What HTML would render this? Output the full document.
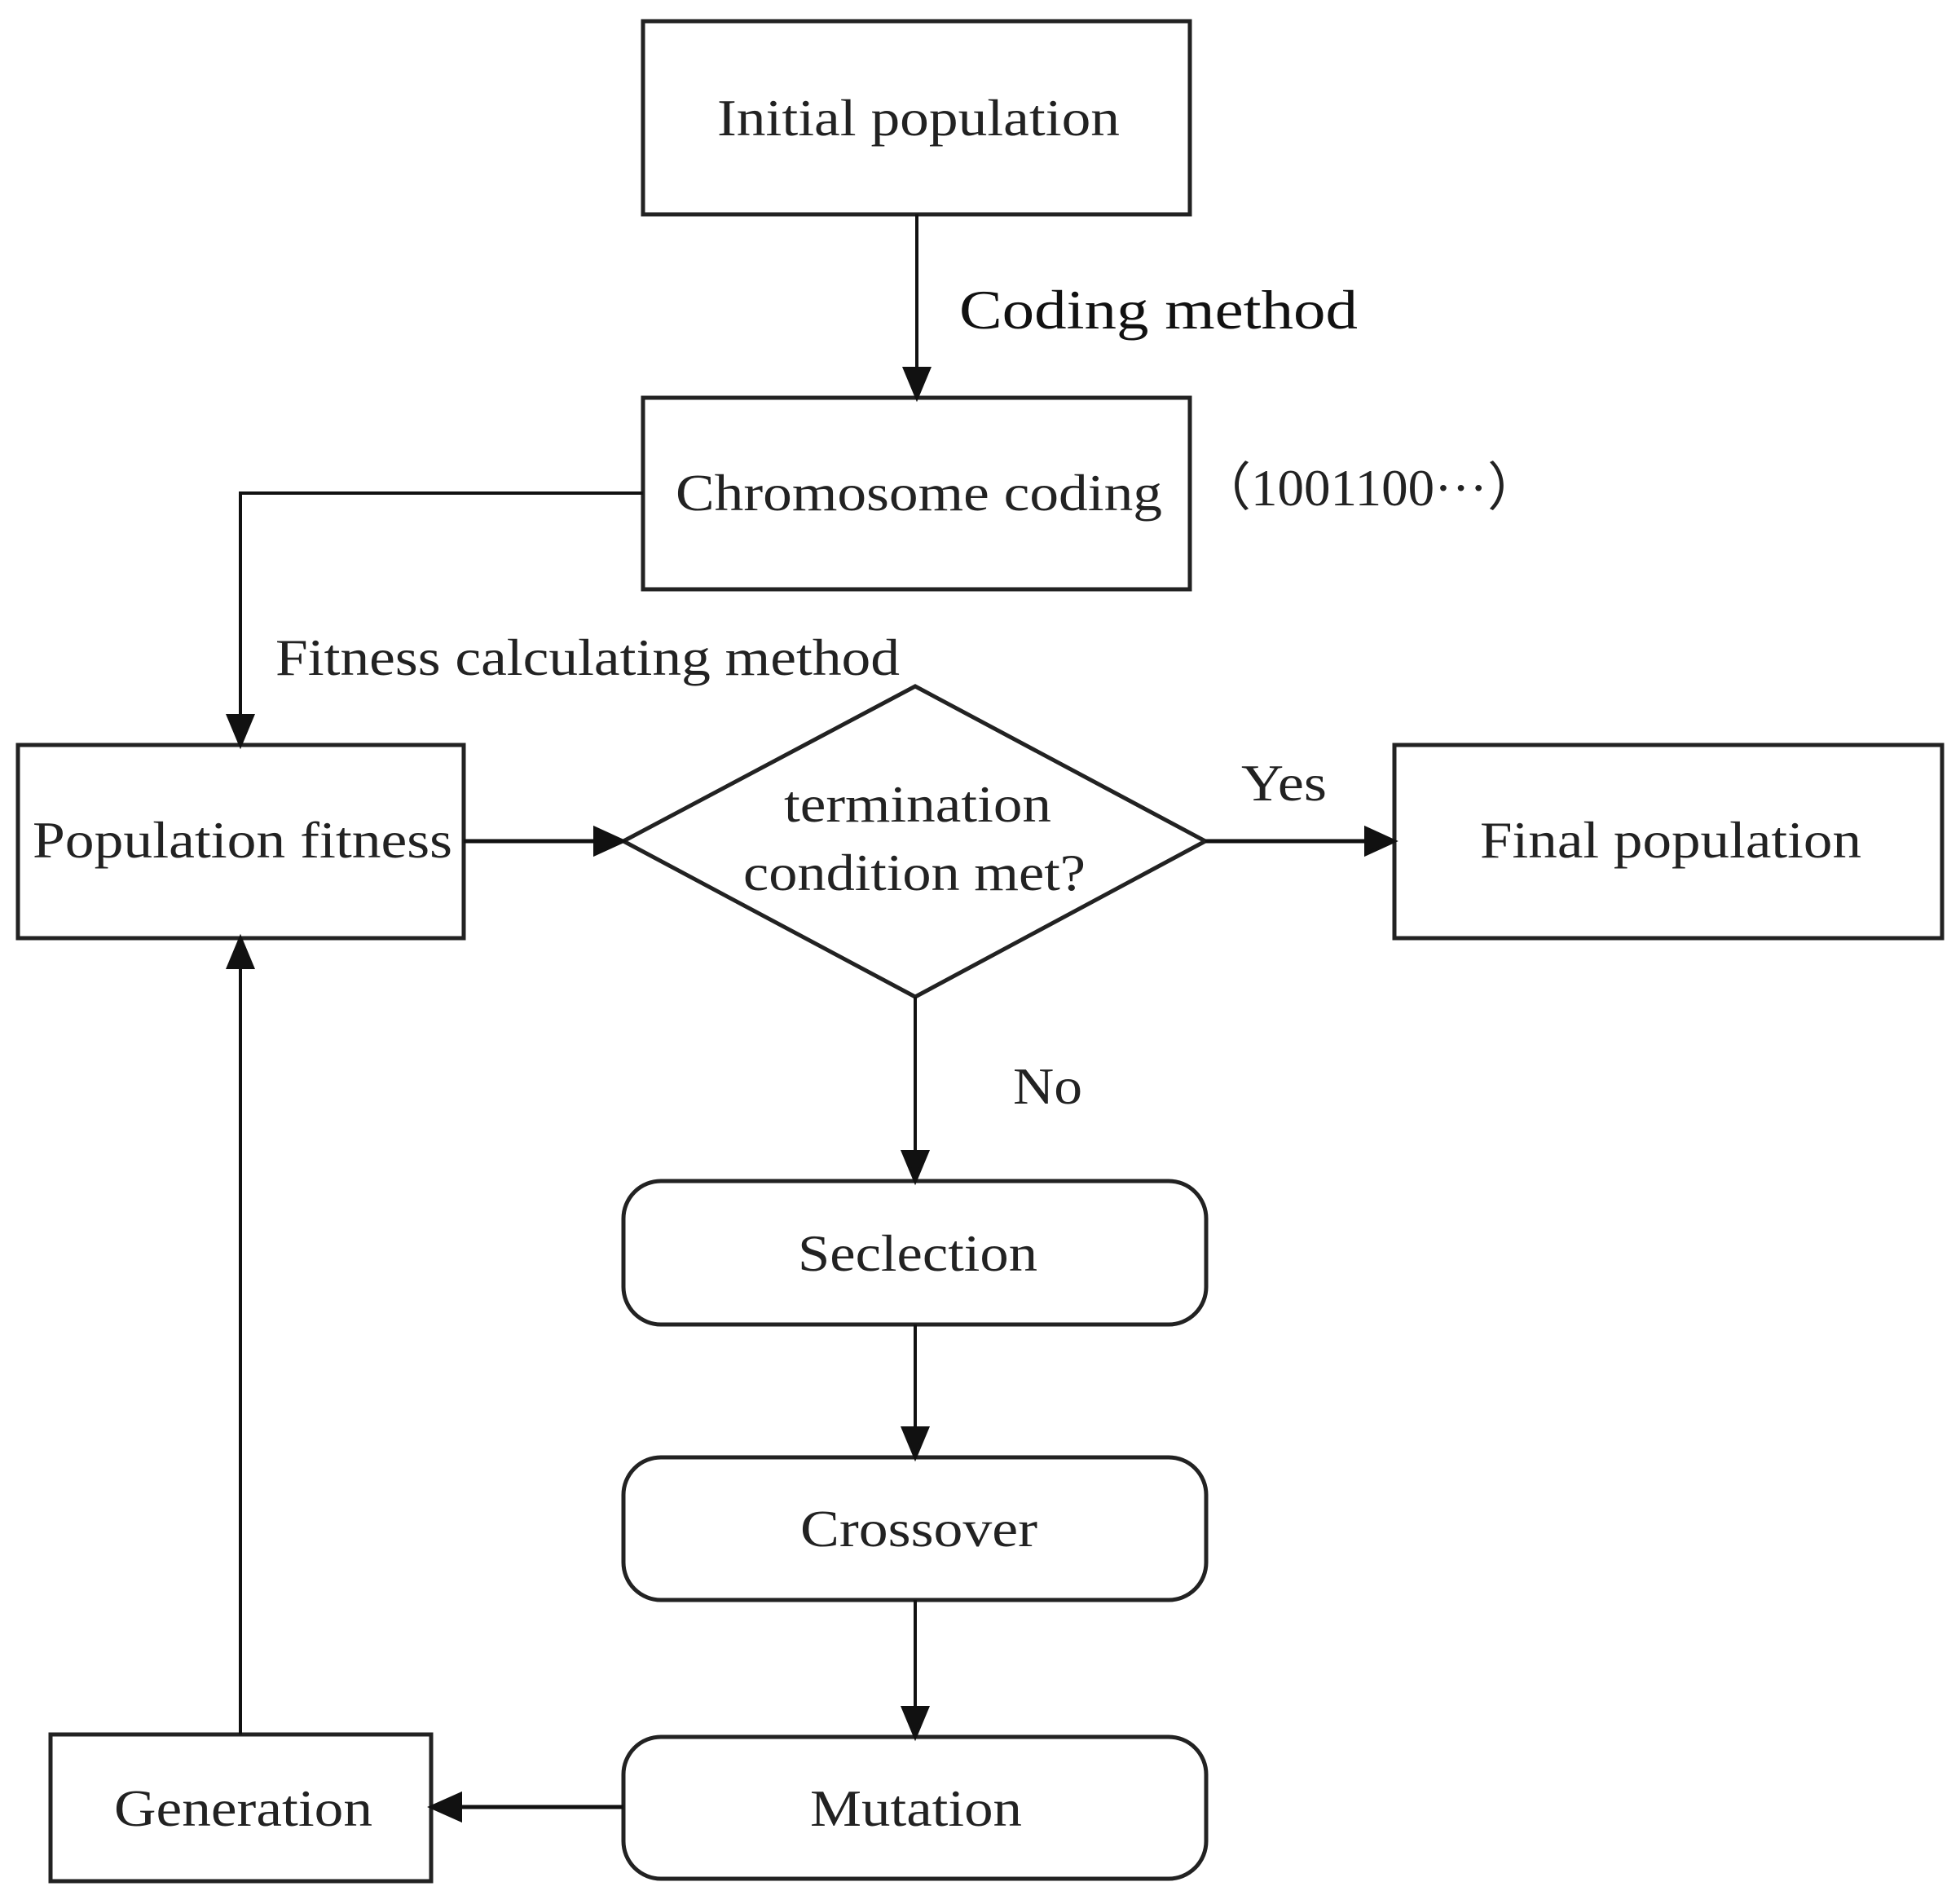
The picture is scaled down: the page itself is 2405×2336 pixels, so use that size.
<!DOCTYPE html>
<html><head><meta charset="utf-8"><style>html,body{margin:0;padding:0;background:#fff}</style></head>
<body>
<svg width="2405" height="2331" viewBox="0 0 2405 2331" xmlns="http://www.w3.org/2000/svg" font-family="Liberation Serif, serif" font-size="64" fill="#222">
<g stroke="#222" stroke-width="5" fill="none">
<rect x="789" y="26" width="671" height="237"/>
<rect x="789" y="488" width="671" height="235"/>
<rect x="22" y="914" width="547" height="237"/>
<rect x="1711" y="914" width="672" height="237"/>
<polygon points="765,1032 1123,842 1479,1032 1123,1223"/>
<rect x="765" y="1449" width="715" height="176" rx="46"/>
<rect x="765" y="1788" width="715" height="175" rx="46"/>
<rect x="765" y="2131" width="715" height="174" rx="46"/>
<rect x="62" y="2128" width="467" height="180"/>
</g>
<g stroke="#111" stroke-width="4">
<line x1="1125" y1="263" x2="1125" y2="452"/>
<polygon points="1110,452 1140,452 1125,488" fill="#111"/>
<polyline points="789,605 295,605 295,878" fill="none"/>
<polygon points="280,878 310,878 295,914" fill="#111"/>
<line x1="569" y1="1032" x2="730" y2="1032" stroke-width="5"/>
<polygon points="730,1016 730,1048 765,1032" fill="#111"/>
<line x1="1479" y1="1032" x2="1676" y2="1032" stroke-width="5"/>
<polygon points="1676,1016 1676,1048 1711,1032" fill="#111"/>
<line x1="1123" y1="1223" x2="1123" y2="1413"/>
<polygon points="1108,1413 1138,1413 1123,1449" fill="#111"/>
<line x1="1123" y1="1625" x2="1123" y2="1752"/>
<polygon points="1108,1752 1138,1752 1123,1788" fill="#111"/>
<line x1="1123" y1="1963" x2="1123" y2="2095"/>
<polygon points="1108,2095 1138,2095 1123,2131" fill="#111"/>
<line x1="765" y1="2217" x2="565" y2="2217" stroke-width="5"/>
<polygon points="565,2201 565,2233 529,2217" fill="#111"/>
<line x1="295" y1="2128" x2="295" y2="1187"/>
<polygon points="280,1187 310,1187 295,1151" fill="#111"/>
</g>
<g>
<text x="880" y="166" textLength="494" lengthAdjust="spacingAndGlyphs">Initial population</text>
<text x="829" y="626" textLength="597" lengthAdjust="spacingAndGlyphs">Chromosome coding</text>
<text x="40" y="1052" textLength="515" lengthAdjust="spacingAndGlyphs">Population fitness</text>
<text x="1816" y="1052" textLength="468" lengthAdjust="spacingAndGlyphs">Final population</text>
<text x="962" y="1008" textLength="328" lengthAdjust="spacingAndGlyphs">termination</text>
<text x="912" y="1092" textLength="420" lengthAdjust="spacingAndGlyphs">condition met?</text>
<text x="979" y="1559" textLength="294" lengthAdjust="spacingAndGlyphs">Seclection</text>
<text x="982" y="1897" textLength="291" lengthAdjust="spacingAndGlyphs">Crossover</text>
<text x="994" y="2240" textLength="260" lengthAdjust="spacingAndGlyphs">Mutation</text>
<text x="140" y="2240" textLength="317" lengthAdjust="spacingAndGlyphs">Generation</text>
<text x="1177" y="403" fill="#111" font-size="68" textLength="489" lengthAdjust="spacingAndGlyphs">Coding method</text>
<text x="1470" y="620" textLength="420" lengthAdjust="spacingAndGlyphs">（1001100···）</text>
<text x="338" y="828" textLength="766" lengthAdjust="spacingAndGlyphs">Fitness calculating method</text>
<text x="1523" y="982" textLength="105" lengthAdjust="spacingAndGlyphs">Yes</text>
<text x="1243" y="1354" textLength="85" lengthAdjust="spacingAndGlyphs">No</text>
</g>
</svg>
</body></html>
